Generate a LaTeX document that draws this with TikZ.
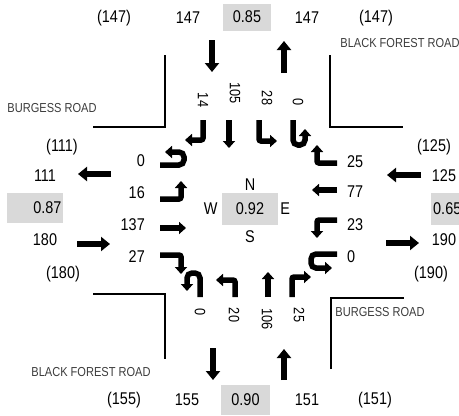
\documentclass[tikz,border=0pt]{standalone}
\usepackage{fontspec}
\setmainfont{Liberation Sans}[FakeStretch=0.85]
\usepackage{tikz}
\usetikzlibrary{arrows.meta, positioning}
\definecolor{phfgray}{RGB}{217, 217, 217}
\definecolor{roadgray}{RGB}{60, 60, 60}

\begin{document}
\begin{tikzpicture}[
    x=1pt, y=-1pt,
    every node/.style={font=\fontsize{17}{17}\selectfont, inner sep=2pt},
    phf/.style={fill=phfgray, minimum height=30pt},
    lanevol/.style={rotate=-90, font=\fontsize{15}{15}\selectfont},
    roadname/.style={font=\fontsize{13}{13}\selectfont, text=roadgray},
    curb/.style={line width=1.7pt},
    approach/.style={line width=6.5pt, -{Triangle[length=9pt, width=14pt]}},
    lane/.style={line width=5.5pt, -{Triangle[length=7pt, width=12pt]}, rounded corners=2pt},
    uturn/.style={lane, rounded corners=5pt}
]
\useasboundingbox (0,0) rectangle (459,416);

\node (nTotIn) at (114,18) {(147)};
\node (nIn) at (188,18) {147};
\node[phf, minimum width=48pt, minimum height=27pt] (nPhf) at (247,17) {0.85};
\node (nOut) at (307,18) {147};
\node (nTotOut) at (376,18) {(147)};

\node (sTotIn) at (124,400) {(155)};
\node (sOut) at (187,400) {155};
\node[phf, minimum width=49pt] (sPhf) at (245.5,400) {0.90};
\node (sIn) at (307,400) {151};
\node (sTotOut) at (375,400) {(151)};

\node (wTotOut) at (62,147) {(111)};
\node (wOut) at (45,176) {111};
\node[phf, text width=53pt, inner sep=1.5pt, align=right] (wPhf) at (35,208) {0.87};
\node (wIn) at (45,240) {180};
\node (wTotIn) at (63,274) {(180)};

\node (eTotIn) at (434,147) {(125)};
\node (eIn) at (444,176) {125};
\node[phf, anchor=west, text width=36pt, align=left, minimum height=32pt] (ePhf) at (431,209) {0.65};
\node (eOut) at (444,240) {190};
\node (eTotOut) at (431,274) {(190)};

\node[phf, minimum width=56pt, minimum height=32pt] (cPhf) at (250,209) {0.92};
\node[above=0pt of cPhf] (cN) {N};
\node[below=3pt of cPhf] (cS) {S};
\node[left=2pt of cPhf] (cW) {W};
\node[right=0pt of cPhf] (cE) {E};

\node[roadname] (rdW) at (52,108) {BURGESS ROAD};
\node[roadname] (rdN) at (400,43) {BLACK FOREST ROAD};
\node[roadname] (rdS) at (91,372) {BLACK FOREST ROAD};
\node[roadname] (rdE) at (380,312) {BURGESS ROAD};

\draw[curb] (93,127) -- (165,127) -- (165,55);
\draw[curb] (330,55) -- (330,127) -- (403,127);
\draw[curb] (93,294) -- (165,294) -- (165,359);
\draw[curb] (331,369) -- (331,298) -- (404,298);

\draw[approach] (212,40) -- (212,72);
\draw[approach] (284,73) -- (284,41);
\draw[approach] (213,348) -- (213,380);
\draw[approach] (284,380) -- (284,349);
\draw[approach] (111,174) -- (78,174);
\draw[approach] (77,244) -- (110,244);
\draw[approach] (421,175) -- (387,175);
\draw[approach] (386,243) -- (419,243);

\node[lanevol] (nR) at (203,100) {14};
\node[lanevol] (nT) at (235,93) {105};
\node[lanevol] (nL) at (267,98) {28};
\node[lanevol] (nU) at (298,102) {0};
\draw[lane] (203,120) |- (185,140);
\draw[lane] (229,120) -- (229,148);
\draw[lane] (259,120) |- (277,141);
\draw[uturn] (293,120) -- (293,145) -- (305,145) -- (305,129);

\node[anchor=east] (wU) at (147,161) {0};
\node[anchor=east] (wL) at (147,193) {16};
\node[anchor=east] (wT) at (147,225) {137};
\node[anchor=east] (wR) at (147,257) {27};
\draw[uturn] (160,165) -- (184,165) -- (184,152) -- (165,152);
\draw[lane] (160,199) -| (181,181);
\draw[lane] (160,228) -- (186,228);
\draw[lane] (160,255) -| (181,274);

\node[anchor=west] (eR) at (345,162) {25};
\node[anchor=west] (eT) at (345,192) {77};
\node[anchor=west] (eL) at (345,225) {23};
\node[anchor=west] (eU) at (345,257) {0};
\draw[lane] (337,163) -| (317,145);
\draw[lane] (337,190) -- (312,190);
\draw[lane] (337,220) -| (317,238);
\draw[uturn] (337,254) -- (311,254) -- (311,268) -- (332,268);

\node[lanevol] (sU) at (200,312) {0};
\node[lanevol] (sL) at (234,315) {20};
\node[lanevol] (sT) at (267,319) {106};
\node[lanevol] (sR) at (299,315) {25};
\draw[uturn] (200,297) -- (200,273) -- (187,273) -- (187,291);
\draw[lane] (235,297) |- (216,280);
\draw[lane] (268,297) -- (268,272);
\draw[lane] (292,297) |- (311,277);
\end{tikzpicture}
\end{document}
